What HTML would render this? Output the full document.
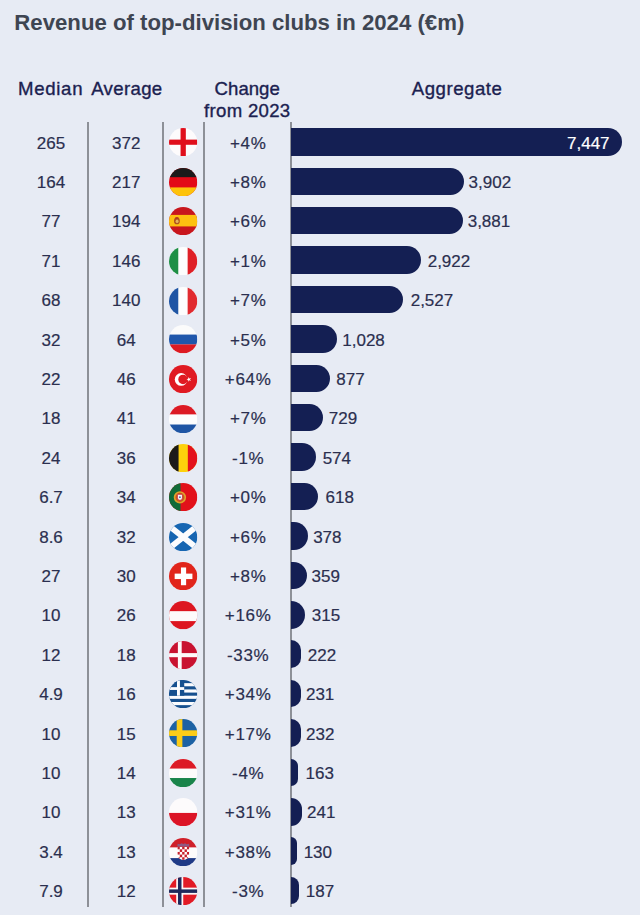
<!DOCTYPE html>
<html lang="en"><head><meta charset="utf-8"><title>Revenue of top-division clubs in 2024</title>
<style>

html,body{margin:0;padding:0}
body{width:640px;height:915px;background:#e7ebf4;position:relative;overflow:hidden;font-family:"Liberation Sans",sans-serif}
.t{position:absolute;white-space:nowrap;line-height:1;margin:0}
.title{left:14.3px;top:11.8px;font-size:22.2px;font-weight:bold;color:#3e4552}
.h{font-size:18.6px;color:#1b2150;text-align:center;-webkit-text-stroke:.35px #1b2150}
.n{font-size:17px;color:#2b2f4f;text-align:center;width:80px;-webkit-text-stroke:.2px #2b2f4f}
.v{font-size:17px;color:#2b2f4f;-webkit-text-stroke:.2px #2b2f4f}
.vw{color:#fff;-webkit-text-stroke:.2px #fff}
.ln{position:absolute;top:122.2px;height:784.8px;width:1.5px;background:#8d9097}
.bar{position:absolute;left:291.0px;height:27.5px;background:#141f53;border-radius:0 14px 14px 0}
.fl{position:absolute;width:28.3px;height:28.3px;display:block}

</style></head><body>
<div class="t title">Revenue of top-division clubs in 2024 (&euro;m)</div>
<div class="t h" style="left:18px;top:80.1px;letter-spacing:.7px">Median</div>
<div class="t h" style="left:91.2px;top:80.1px;letter-spacing:.35px">Average</div>
<div class="t h" style="left:197.2px;width:100px;top:80px">Change</div>
<div class="t h" style="left:187.3px;width:120px;top:102.4px;letter-spacing:.3px">from 2023</div>
<div class="t h" style="left:397.1px;width:120px;top:80px;letter-spacing:.55px">Aggregate</div>
<div class="ln" style="left:87.25px"></div>
<div class="ln" style="left:162.00px"></div>
<div class="ln" style="left:203.00px"></div>
<div class="ln" style="left:290.1px;width:1.8px"></div>
<div class="bar" style="top:128.15px;width:330.50px"></div>
<div class="t n" style="left:11.0px;top:134.60px">265</div>
<div class="t n" style="left:86.3px;top:134.60px">372</div>
<div class="t n" style="left:208.2px;top:134.60px;letter-spacing:.7px">+4%</div>
<div class="t v vw" style="left:567px;top:134.60px">7,447</div>
<svg class="fl" style="left:169.35px;top:128.15px" viewBox="0 0 29 29"><clipPath id="c0"><circle cx="14.5" cy="14.5" r="14.5"/></clipPath><g clip-path="url(#c0)"><rect width="29" height="29" fill="#fdfbfc"/><rect x="11.85" width="5.4" height="29" fill="#e00f1c"/><rect y="11.9" width="29" height="5.3" fill="#e00f1c"/></g></svg>
<div class="bar" style="top:167.56px;width:173.17px"></div>
<div class="t n" style="left:11.0px;top:174.00px">164</div>
<div class="t n" style="left:86.3px;top:174.00px">217</div>
<div class="t n" style="left:208.2px;top:174.00px;letter-spacing:.7px">+8%</div>
<div class="t v" style="left:468.61px;top:174.00px">3,902</div>
<svg class="fl" style="left:169.35px;top:167.66px" viewBox="0 0 29 29"><clipPath id="c1"><circle cx="14.5" cy="14.5" r="14.5"/></clipPath><g clip-path="url(#c1)"><rect width="29" height="29" fill="#e30a17"/><rect width="29" height="9.4" fill="#1c1a1a"/><rect y="19.9" width="29" height="9.1" fill="#fdc30b"/></g></svg>
<div class="bar" style="top:206.96px;width:172.24px"></div>
<div class="t n" style="left:11.0px;top:213.41px">77</div>
<div class="t n" style="left:86.3px;top:213.41px">194</div>
<div class="t n" style="left:208.2px;top:213.41px;letter-spacing:.7px">+6%</div>
<div class="t v" style="left:467.68px;top:213.41px">3,881</div>
<svg class="fl" style="left:169.35px;top:206.86px" viewBox="0 0 29 29"><clipPath id="c2"><circle cx="14.5" cy="14.5" r="14.5"/></clipPath><g clip-path="url(#c2)"><rect width="29" height="29" fill="#c8161d"/><rect y="8.1" width="29" height="11.8" fill="#fdc010"/><ellipse cx="8.1" cy="14.3" rx="3.0" ry="3.5" fill="#b0521f"/><ellipse cx="8.3" cy="14.6" rx="1.5" ry="1.9" fill="#e4b45a"/><rect x="6.4" y="10.6" width="3.4" height="1.3" rx=".6" fill="#b22a22"/></g></svg>
<div class="bar" style="top:246.37px;width:129.68px"></div>
<div class="t n" style="left:11.0px;top:252.81px">71</div>
<div class="t n" style="left:86.3px;top:252.81px">146</div>
<div class="t n" style="left:208.2px;top:252.81px;letter-spacing:.7px">+1%</div>
<div class="t v" style="left:427.68px;top:252.81px">2,922</div>
<svg class="fl" style="left:169.35px;top:246.86px" viewBox="0 0 29 29"><clipPath id="c3"><circle cx="14.5" cy="14.5" r="14.5"/></clipPath><g clip-path="url(#c3)"><rect width="29" height="29" fill="#fdfdfd"/><rect width="9.5" height="29" fill="#1e8f45"/><rect x="19.1" width="9.9" height="29" fill="#df1f26"/></g></svg>
<div class="bar" style="top:285.77px;width:112.15px"></div>
<div class="t n" style="left:11.0px;top:292.22px">68</div>
<div class="t n" style="left:86.3px;top:292.22px">140</div>
<div class="t n" style="left:208.2px;top:292.22px;letter-spacing:.7px">+7%</div>
<div class="t v" style="left:410.68px;top:292.22px">2,527</div>
<svg class="fl" style="left:169.35px;top:286.57px" viewBox="0 0 29 29"><clipPath id="c4"><circle cx="14.5" cy="14.5" r="14.5"/></clipPath><g clip-path="url(#c4)"><rect width="29" height="29" fill="#fdfdfd"/><rect width="9.5" height="29" fill="#1f55a4"/><rect x="19.1" width="9.9" height="29" fill="#e12a2f"/></g></svg>
<div class="bar" style="top:325.18px;width:45.62px"></div>
<div class="t n" style="left:11.0px;top:331.62px">32</div>
<div class="t n" style="left:86.3px;top:331.62px">64</div>
<div class="t n" style="left:208.2px;top:331.62px;letter-spacing:.7px">+5%</div>
<div class="t v" style="left:342.25px;top:331.62px">1,028</div>
<svg class="fl" style="left:169.35px;top:325.48px" viewBox="0 0 29 29"><clipPath id="c5"><circle cx="14.5" cy="14.5" r="14.5"/></clipPath><g clip-path="url(#c5)"><rect width="29" height="29" fill="#fbfbfb"/><rect y="9.8" width="29" height="10.2" fill="#2057ab"/><rect y="19.9" width="29" height="9.1" fill="#dd1a22"/></g></svg>
<div class="bar" style="top:364.58px;width:38.92px"></div>
<div class="t n" style="left:11.0px;top:371.03px">22</div>
<div class="t n" style="left:86.3px;top:371.03px">46</div>
<div class="t n" style="left:208.2px;top:371.03px;letter-spacing:.7px">+64%</div>
<div class="t v" style="left:336.31px;top:371.03px">877</div>
<svg class="fl" style="left:169.35px;top:365.03px" viewBox="0 0 29 29"><clipPath id="c6"><circle cx="14.5" cy="14.5" r="14.5"/></clipPath><g clip-path="url(#c6)"><rect width="29" height="29" fill="#e01a22"/><circle cx="12.4" cy="14.8" r="6.5" fill="#fff"/><circle cx="14.4" cy="14.8" r="4.9" fill="#e01a22"/><polygon fill="#fff" points="17.90,14.80 19.69,14.21 19.70,12.33 20.81,13.85 22.60,13.27 21.50,14.80 22.60,16.33 20.81,15.75 19.70,17.27 19.69,15.39"/></g></svg>
<div class="bar" style="top:403.99px;width:32.35px"></div>
<div class="t n" style="left:11.0px;top:410.44px">18</div>
<div class="t n" style="left:86.3px;top:410.44px">41</div>
<div class="t n" style="left:208.2px;top:410.44px;letter-spacing:.7px">+7%</div>
<div class="t v" style="left:328.75px;top:410.44px">729</div>
<svg class="fl" style="left:169.35px;top:404.69px" viewBox="0 0 29 29"><clipPath id="c7"><circle cx="14.5" cy="14.5" r="14.5"/></clipPath><g clip-path="url(#c7)"><rect width="29" height="29" fill="#fdfdfd"/><rect width="29" height="9.6" fill="#dc1a24"/><rect y="20.0" width="29" height="9" fill="#1f55a4"/></g></svg>
<div class="bar" style="top:443.39px;width:25.47px"></div>
<div class="t n" style="left:11.0px;top:449.84px">24</div>
<div class="t n" style="left:86.3px;top:449.84px">36</div>
<div class="t n" style="left:208.2px;top:449.84px;letter-spacing:.7px">-1%</div>
<div class="t v" style="left:322.64px;top:449.84px">574</div>
<svg class="fl" style="left:169.35px;top:443.89px" viewBox="0 0 29 29"><clipPath id="c8"><circle cx="14.5" cy="14.5" r="14.5"/></clipPath><g clip-path="url(#c8)"><rect width="29" height="29" fill="#fdd10c"/><rect width="9.8" height="29" fill="#1b1a1a"/><rect x="19.3" width="9.7" height="29" fill="#e3121c"/></g></svg>
<div class="bar" style="top:482.79px;width:27.43px"></div>
<div class="t n" style="left:11.0px;top:489.24px">6.7</div>
<div class="t n" style="left:86.3px;top:489.24px">34</div>
<div class="t n" style="left:208.2px;top:489.24px;letter-spacing:.7px">+0%</div>
<div class="t v" style="left:325.59px;top:489.24px">618</div>
<svg class="fl" style="left:169.35px;top:483.19px" viewBox="0 0 29 29"><clipPath id="c9"><circle cx="14.5" cy="14.5" r="14.5"/></clipPath><g clip-path="url(#c9)"><rect width="29" height="29" fill="#e2111a"/><rect width="11.8" height="29" fill="#116b38"/><circle cx="11.2" cy="14.7" r="5.5" fill="#c9571f" stroke="#dfa32c" stroke-width="1.7"/><path d="M8.6 11.6h5.2v3.6a2.6 2.6 0 0 1-5.2 0z" fill="#f6f3f6" stroke="#d0262c" stroke-width=".8"/><circle cx="11.2" cy="14.5" r=".9" fill="#3f5aa6"/></g></svg>
<div class="bar" style="top:522.20px;width:16.78px"></div>
<div class="t n" style="left:11.0px;top:528.65px">8.6</div>
<div class="t n" style="left:86.3px;top:528.65px">32</div>
<div class="t n" style="left:208.2px;top:528.65px;letter-spacing:.7px">+6%</div>
<div class="t v" style="left:313.15px;top:528.65px">378</div>
<svg class="fl" style="left:169.35px;top:522.60px" viewBox="0 0 29 29"><clipPath id="c10"><circle cx="14.5" cy="14.5" r="14.5"/></clipPath><g clip-path="url(#c10)"><rect width="29" height="29" fill="#1766b2"/><path d="M-3 .5L32 28.5M32 .5L-3 28.5" stroke="#fbfcfe" stroke-width="5.9"/></g></svg>
<div class="bar" style="top:561.61px;width:15.93px"></div>
<div class="t n" style="left:11.0px;top:568.06px">27</div>
<div class="t n" style="left:86.3px;top:568.06px">30</div>
<div class="t n" style="left:208.2px;top:568.06px;letter-spacing:.7px">+8%</div>
<div class="t v" style="left:311.61px;top:568.06px">359</div>
<svg class="fl" style="left:169.35px;top:562.00px" viewBox="0 0 29 29"><clipPath id="c11"><circle cx="14.5" cy="14.5" r="14.5"/></clipPath><g clip-path="url(#c11)"><rect width="29" height="29" fill="#e1251b"/><rect x="12.25" y="5.6" width="5.3" height="18.2" fill="#fff"/><rect x="5.8" y="11.9" width="18.2" height="5.6" fill="#fff"/></g></svg>
<div class="bar" style="top:601.01px;width:13.98px"></div>
<div class="t n" style="left:11.0px;top:607.46px">10</div>
<div class="t n" style="left:86.3px;top:607.46px">26</div>
<div class="t n" style="left:208.2px;top:607.46px;letter-spacing:.7px">+16%</div>
<div class="t v" style="left:311.86px;top:607.46px">315</div>
<svg class="fl" style="left:169.35px;top:601.41px" viewBox="0 0 29 29"><clipPath id="c12"><circle cx="14.5" cy="14.5" r="14.5"/></clipPath><g clip-path="url(#c12)"><rect width="29" height="29" fill="#dd1620"/><rect y="10.4" width="29" height="10.2" fill="#fdfbfb"/></g></svg>
<div class="bar" style="top:640.41px;width:9.85px"></div>
<div class="t n" style="left:11.0px;top:646.87px">12</div>
<div class="t n" style="left:86.3px;top:646.87px">18</div>
<div class="t n" style="left:208.2px;top:646.87px;letter-spacing:.7px">-33%</div>
<div class="t v" style="left:307.74px;top:646.87px">222</div>
<svg class="fl" style="left:169.35px;top:641.01px" viewBox="0 0 29 29"><clipPath id="c13"><circle cx="14.5" cy="14.5" r="14.5"/></clipPath><g clip-path="url(#c13)"><rect width="29" height="29" fill="#c91230"/><rect x="9.1" width="3.9" height="29" fill="#fdf8f9"/><rect y="12.4" width="29" height="4.2" fill="#fdf8f9"/></g></svg>
<div class="bar" style="top:679.82px;width:10.25px"></div>
<div class="t n" style="left:11.0px;top:686.27px">4.9</div>
<div class="t n" style="left:86.3px;top:686.27px">16</div>
<div class="t n" style="left:208.2px;top:686.27px;letter-spacing:.7px">+34%</div>
<div class="t v" style="left:305.94px;top:686.27px">231</div>
<svg class="fl" style="left:169.35px;top:680.12px" viewBox="0 0 29 29"><clipPath id="c14"><circle cx="14.5" cy="14.5" r="14.5"/></clipPath><g clip-path="url(#c14)"><rect width="29" height="29" fill="#16508f"/><rect y="3.22" width="29" height="3.22" fill="#fbfcfe"/><rect y="9.66" width="29" height="3.22" fill="#fbfcfe"/><rect y="16.10" width="29" height="3.22" fill="#fbfcfe"/><rect y="22.54" width="29" height="3.22" fill="#fbfcfe"/><rect width="15.6" height="16.1" fill="#16508f"/><rect x="8.2" width="3" height="16.1" fill="#fbfcfe"/><rect y="7.3" width="15.6" height="2.9" fill="#fbfcfe"/></g></svg>
<div class="bar" style="top:719.23px;width:10.30px"></div>
<div class="t n" style="left:11.0px;top:725.68px">10</div>
<div class="t n" style="left:86.3px;top:725.68px">15</div>
<div class="t n" style="left:208.2px;top:725.68px;letter-spacing:.7px">+17%</div>
<div class="t v" style="left:305.98px;top:725.68px">232</div>
<svg class="fl" style="left:169.35px;top:719.12px" viewBox="0 0 29 29"><clipPath id="c15"><circle cx="14.5" cy="14.5" r="14.5"/></clipPath><g clip-path="url(#c15)"><rect width="29" height="29" fill="#1d62a4"/><rect x="7.9" width="5.8" height="29" fill="#fccc18"/><rect y="11.6" width="29" height="5.8" fill="#fccc18"/></g></svg>
<div class="bar" style="top:758.63px;width:7.23px"></div>
<div class="t n" style="left:11.0px;top:765.08px">10</div>
<div class="t n" style="left:86.3px;top:765.08px">14</div>
<div class="t n" style="left:208.2px;top:765.08px;letter-spacing:.7px">-4%</div>
<div class="t v" style="left:305.52px;top:765.08px">163</div>
<svg class="fl" style="left:169.35px;top:758.73px" viewBox="0 0 29 29"><clipPath id="c16"><circle cx="14.5" cy="14.5" r="14.5"/></clipPath><g clip-path="url(#c16)"><rect width="29" height="29" fill="#fdfbfb"/><rect width="29" height="9.8" fill="#dc1a26"/><rect y="19.5" width="29" height="9.5" fill="#19844a"/></g></svg>
<div class="bar" style="top:798.03px;width:10.70px"></div>
<div class="t n" style="left:11.0px;top:804.49px">10</div>
<div class="t n" style="left:86.3px;top:804.49px">13</div>
<div class="t n" style="left:208.2px;top:804.49px;letter-spacing:.7px">+31%</div>
<div class="t v" style="left:307.03px;top:804.49px">241</div>
<svg class="fl" style="left:169.35px;top:798.13px" viewBox="0 0 29 29"><clipPath id="c17"><circle cx="14.5" cy="14.5" r="14.5"/></clipPath><g clip-path="url(#c17)"><rect width="29" height="29" fill="#fdfbfc"/><rect y="15.3" width="29" height="13.7" fill="#dc1426"/></g></svg>
<div class="bar" style="top:837.44px;width:5.77px"></div>
<div class="t n" style="left:11.0px;top:843.89px">3.4</div>
<div class="t n" style="left:86.3px;top:843.89px">13</div>
<div class="t n" style="left:208.2px;top:843.89px;letter-spacing:.7px">+38%</div>
<div class="t v" style="left:303.66px;top:843.89px">130</div>
<svg class="fl" style="left:169.35px;top:837.54px" viewBox="0 0 29 29"><clipPath id="c18"><circle cx="14.5" cy="14.5" r="14.5"/></clipPath><g clip-path="url(#c18)"><rect width="29" height="29" fill="#fdfbfb"/><rect width="29" height="9.6" fill="#cf1f29"/><rect y="20.6" width="29" height="8.4" fill="#1f3a86"/><clipPath id="crs"><path d="M8.6 8.9h12.2v7.6a6.1 6.1 0 0 1-12.2 0z"/></clipPath><g clip-path="url(#crs)"><rect x="8.6" y="8.9" width="12.2" height="15" fill="#fff"/><rect x="8.60" y="8.90" width="2.44" height="2.70" fill="#c8202b"/><rect x="13.48" y="8.90" width="2.44" height="2.70" fill="#c8202b"/><rect x="18.36" y="8.90" width="2.44" height="2.70" fill="#c8202b"/><rect x="11.04" y="11.60" width="2.44" height="2.70" fill="#c8202b"/><rect x="15.92" y="11.60" width="2.44" height="2.70" fill="#c8202b"/><rect x="8.60" y="14.30" width="2.44" height="2.70" fill="#c8202b"/><rect x="13.48" y="14.30" width="2.44" height="2.70" fill="#c8202b"/><rect x="18.36" y="14.30" width="2.44" height="2.70" fill="#c8202b"/><rect x="11.04" y="17.00" width="2.44" height="2.70" fill="#c8202b"/><rect x="15.92" y="17.00" width="2.44" height="2.70" fill="#c8202b"/><rect x="8.60" y="19.70" width="2.44" height="2.70" fill="#c8202b"/><rect x="13.48" y="19.70" width="2.44" height="2.70" fill="#c8202b"/><rect x="18.36" y="19.70" width="2.44" height="2.70" fill="#c8202b"/></g><path d="M8.5 8.8l.3-2.9 2.4.5 1.7-1.1 1.8.8 1.8-.8 1.7 1.1 2.4-.5.3 2.9z" fill="#8d5a84"/></g></svg>
<div class="bar" style="top:876.85px;width:8.30px"></div>
<div class="t n" style="left:11.0px;top:883.30px">7.9</div>
<div class="t n" style="left:86.3px;top:883.30px">12</div>
<div class="t n" style="left:208.2px;top:883.30px;letter-spacing:.7px">-3%</div>
<div class="t v" style="left:305.74px;top:883.30px">187</div>
<svg class="fl" style="left:169.35px;top:876.65px" viewBox="0 0 29 29"><clipPath id="c19"><circle cx="14.5" cy="14.5" r="14.5"/></clipPath><g clip-path="url(#c19)"><rect width="29" height="29" fill="#e21a25"/><rect x="7.4" width="7.2" height="29" fill="#fcf6f7"/><rect y="10.9" width="29" height="7.2" fill="#fcf6f7"/><rect x="9.2" width="3.6" height="29" fill="#1f295c"/><rect y="12.7" width="29" height="3.6" fill="#1f295c"/></g></svg>
</body></html>
